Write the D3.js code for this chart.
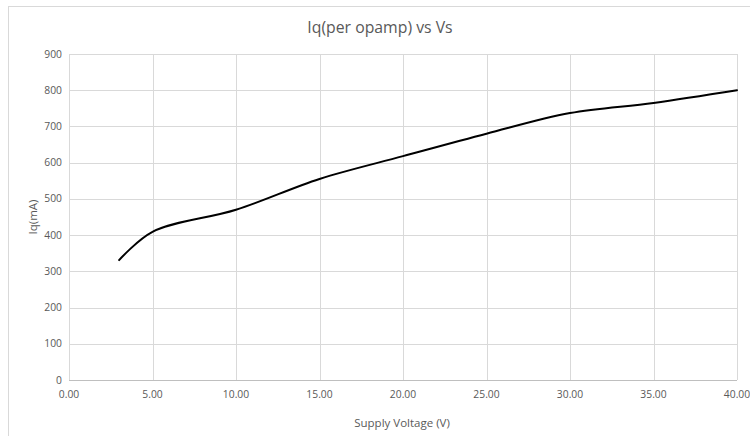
<!DOCTYPE html>
<html><head><meta charset="utf-8">
<script src="https://cdn.jsdelivr.net/npm/d3@7"></script>
<style>body{margin:0;background:#fff}svg{display:block}text{font-family:"Open Sans","Liberation Sans",sans-serif;fill:#595959}</style>
</head><body>
<svg id="c" width="750" height="436"></svg>
<script>
const voltage = [3, 5, 10, 15, 20, 25, 30, 35, 40];
const iq = [331, 409, 470, 555, 618, 680, 737, 765, 800];
const xTicks = [0, 5, 10, 15, 20, 25, 30, 35, 40];
const yTicks = [0, 100, 200, 300, 400, 500, 600, 700, 800, 900];
const title = "Iq(per opamp) vs Vs";
const xTitle = "Supply Voltage (V)";
const yTitle = "Iq(mA)";

const svg = d3.select("#c");
svg.append("rect").attr("x", 8.5).attr("y", 6.5).attr("width", 760).attr("height", 440)
  .attr("fill", "#fff").attr("stroke", "#d9d9d9");

const x = d3.scaleLinear().domain([0, 40]).range([69, 737]);
const y = d3.scaleLinear().domain([0, 900]).range([380, 54]);

const g = svg.append("g");
g.selectAll(".hg").data(yTicks).join("line")
  .attr("x1", x(0)).attr("x2", x(40))
  .attr("y1", d => Math.round(y(d)) + 0.5).attr("y2", d => Math.round(y(d)) + 0.5)
  .attr("stroke", d => d === 0 ? "#bfbfbf" : "#d9d9d9");
g.selectAll(".vg").data(xTicks).join("line")
  .attr("y1", y(0)).attr("y2", y(900))
  .attr("x1", d => Math.round(x(d)) + 0.5).attr("x2", d => Math.round(x(d)) + 0.5)
  .attr("stroke", "#d9d9d9");

g.selectAll(".yl").data(yTicks).join("text")
  .attr("x", 62).attr("y", d => y(d) + 3.5).attr("text-anchor", "end")
  .attr("font-size", 10.3).text(d => d);
g.selectAll(".xl").data(xTicks).join("text")
  .attr("x", d => x(d)).attr("y", 398).attr("text-anchor", "middle")
  .attr("font-size", 10.3).text(d => d.toFixed(2));

svg.append("text").attr("x", 380).attr("y", 33).attr("text-anchor", "middle")
  .attr("font-size", 15.8).text(title);
svg.append("text").attr("x", 402).attr("y", 427).attr("text-anchor", "middle")
  .attr("font-size", 11.5).text(xTitle);
svg.append("text").attr("transform", "translate(37,217) rotate(-90)").attr("text-anchor", "middle")
  .attr("font-size", 11.5).text(yTitle);

const data = voltage.map((v, i) => [v, iq[i]]);
const line = d3.line().x(d => x(d[0])).y(d => y(d[1])).curve(d3.curveCatmullRom.alpha(0.5));
svg.append("path").datum(data).attr("d", line).attr("fill", "none")
  .attr("stroke", "#000").attr("stroke-width", 2).attr("stroke-linecap", "round");
</script>
</body></html>
